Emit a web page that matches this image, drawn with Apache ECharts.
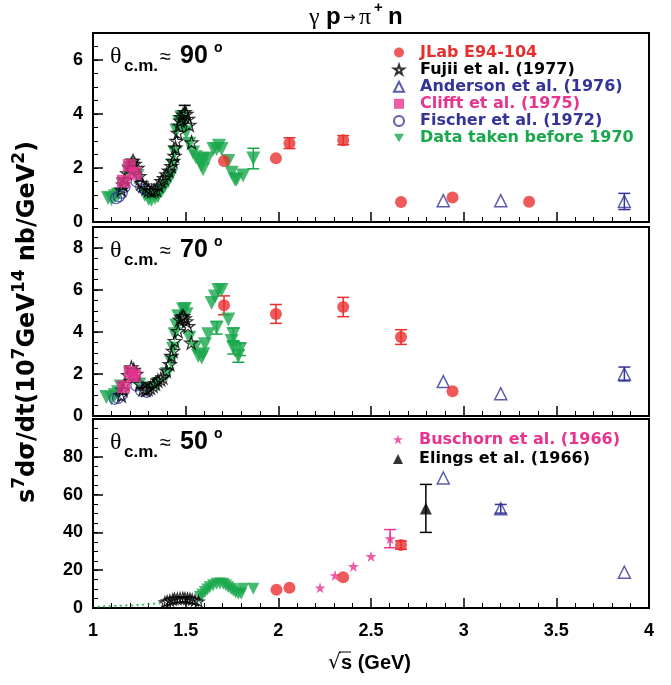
<!DOCTYPE html>
<html><head><meta charset="utf-8">
<script src="https://cdn.jsdelivr.net/npm/echarts@6/dist/echarts.min.js"></script>
<style>html,body{margin:0;padding:0;background:#fff}#c{width:671px;height:685px}</style>
</head><body><div id="c"></div>
<script>
// ---------------- DATA ----------------
const xTickRange = [1, 4];
const panelAngles = ['90', '70', '50'];
const panelYMax = [7, 9, 100];
const panelYInterval = [2, 2, 20];
const panelYMinor = [0.5, 0.5, 5];

// theta ~ 90 deg
const jlab90 = [[1.707,2.26],[1.987,2.36],[2.06,2.92],[2.35,3.03],[2.662,0.74],[2.94,0.91],[3.353,0.75]];
const jlab90Err = [[2.06,2.92,0.2],[2.35,3.03,0.17]];
const fujii90 = [[1.153,1.20],[1.162,1.38],[1.171,1.57],[1.185,1.80],[1.198,2.01],[1.207,2.15],[1.216,2.26],[1.225,2.15],[1.24,2.0],[1.25,1.7],[1.26,1.45],[1.27,1.35],[1.288,1.26],[1.30,1.18],[1.315,1.14],[1.33,1.16],[1.342,1.20],[1.355,1.35],[1.369,1.51],[1.383,1.62],[1.396,1.76],[1.41,1.90],[1.423,2.07],[1.432,2.25],[1.44,2.45],[1.445,2.75],[1.45,3.0],[1.458,3.3],[1.464,3.57],[1.47,3.75],[1.477,3.88],[1.486,3.98],[1.495,4.07],[1.504,4.0],[1.513,3.82],[1.52,3.6],[1.532,2.95]];
const fujii90Err = [[1.495,4.07,0.25]];
const anderson90 = [[2.89,0.79],[3.20,0.79],[3.867,0.76]];
const anderson90Err = [[3.867,0.76,0.3]];
const clifft90 = [[1.164,1.51],[1.196,2.10],[1.227,1.80]];
const fischer90 = [[1.125,0.88],[1.14,0.95],[1.155,1.08],[1.17,1.30],[1.235,1.50],[1.26,1.30],[1.28,1.20]];
const old90 = [[1.081,0.89],[1.10,0.85],[1.118,0.95],[1.135,1.01],[1.16,1.4],[1.19,1.9],[1.21,2.1],[1.24,1.7],[1.28,1.0],[1.30,0.85],[1.315,0.82],[1.335,0.9],[1.35,0.95],[1.37,1.15],[1.387,1.32],[1.405,1.5],[1.42,1.7],[1.43,2.1],[1.44,2.57],[1.45,3.38],[1.465,3.7],[1.477,3.88],[1.49,3.6],[1.503,3.32],[1.52,2.9],[1.54,2.57],[1.555,2.4],[1.576,2.26],[1.585,2.1],[1.594,1.95],[1.595,2.32],[1.62,2.35],[1.65,2.70],[1.667,2.70],[1.68,2.82],[1.694,2.70],[1.73,2.26],[1.748,1.82],[1.766,1.57],[1.775,1.57],[1.81,1.72],[1.865,2.35]];
const old90Err = [[1.865,2.35,0.38]];

// theta ~ 70 deg
const jlab70 = [[1.707,5.27],[1.987,4.86],[2.35,5.19],[2.662,3.76],[2.94,1.18]];
const jlab70Err = [[1.707,5.27,0.45],[1.987,4.86,0.45],[2.35,5.19,0.46],[2.662,3.76,0.35]];
const anderson70 = [[2.89,1.64],[3.20,1.06],[3.867,2.0]];
const anderson70Err = [[3.867,2.0,0.33]];
const fujii70 = [[1.153,0.98],[1.162,1.25],[1.171,1.53],[1.19,1.95],[1.207,2.31],[1.22,2.2],[1.234,2.0],[1.252,1.53],[1.27,1.29],[1.285,1.25],[1.297,1.29],[1.31,1.35],[1.324,1.45],[1.337,1.55],[1.35,1.68],[1.365,1.75],[1.377,1.84],[1.396,2.16],[1.414,2.47],[1.423,2.86],[1.432,3.1],[1.441,3.57],[1.459,4.04],[1.468,4.59],[1.477,4.7],[1.486,4.75],[1.495,4.65],[1.503,4.51],[1.513,4.28],[1.53,3.49]];
const clifft70 = [[1.165,1.40],[1.201,2.08],[1.225,1.92]];
const fischer70 = [[1.117,0.82],[1.135,0.86],[1.153,1.0],[1.234,1.45],[1.26,1.2],[1.29,1.15]];
const old70 = [[1.072,0.90],[1.1,0.85],[1.118,1.0],[1.135,1.13],[1.15,1.4],[1.2,2.0],[1.25,1.5],[1.3,1.3],[1.35,1.5],[1.4,2.0],[1.42,2.6],[1.432,3.2],[1.44,3.89],[1.45,4.3],[1.46,4.75],[1.486,5.07],[1.496,5.1],[1.505,4.85],[1.52,3.73],[1.55,3.25],[1.568,2.86],[1.586,2.78],[1.595,2.94],[1.604,3.42],[1.622,3.89],[1.64,5.38],[1.658,5.69],[1.667,4.2],[1.676,6.0],[1.694,6.0],[1.73,4.59],[1.748,3.57],[1.757,3.89],[1.757,3.25],[1.784,2.86],[1.793,3.18]];
const old70Err = [[1.667,4.2,0.3],[1.757,3.89,0.3],[1.757,3.25,0.3],[1.784,2.86,0.3],[1.793,3.18,0.3]];

// theta ~ 50 deg
const jlab50 = [[1.99,9.6],[2.06,10.7],[2.35,16.3],[2.662,33.3]];
const jlab50Err = [[2.662,33.3,2.2]];
const anderson50 = [[2.89,68.8],[3.20,52.5],[3.867,18.9]];
const anderson50Err = [[3.20,52.5,2.3]];
const elings50 = [[2.796,52.7]];
const elings50Err = [[2.796,52.7,12.7]];
const buschorn50 = [[2.225,10.7],[2.306,17.2],[2.405,22.0],[2.50,27.3],[2.603,36.7]];
const buschorn50Err = [[2.603,36.7,4.8]];
const fujii50 = [[1.388,3.1],[1.40,3.6],[1.415,4.0],[1.43,4.5],[1.44,4.9],[1.455,5.0],[1.47,5.2],[1.485,5.3],[1.496,5.2],[1.51,5.0],[1.523,4.9],[1.535,4.5],[1.55,4.0],[1.57,3.5]];
const old50 = [[1.577,5.8],[1.59,7.0],[1.604,8.4],[1.617,9.8],[1.63,11.0],[1.648,12.0],[1.667,12.8],[1.685,13.0],[1.703,12.8],[1.717,12.0],[1.73,11.0],[1.745,10.0],[1.757,9.3],[1.77,8.2],[1.784,7.6],[1.80,7.5],[1.81,10.2],[1.865,10.2]];
const old50Low = [[1.03,0.4],[1.06,0.6],[1.09,0.7],[1.12,0.8],[1.15,0.9],[1.18,1.0],[1.21,1.1],[1.24,1.3],[1.27,1.5],[1.30,1.7],[1.33,2.0],[1.36,2.4]];

// ---------------- STYLE ----------------
const RED='#e8312f', BLUE='#333399', PINK='#e8338f', GREEN='#19a84c', BLACK='#000000';
const STAR='path://M50,0L61.2,34.5L97.6,34.5L68.2,55.9L79.4,90.5L50,69.1L20.6,90.5L31.8,55.9L2.4,34.5L38.8,34.5Z';
const N = {jlab:'JLab E94-104', fujii:'Fujii et al. (1977)', and:'Anderson et al. (1976)', cli:'Clifft et al. (1975)', fis:'Fischer et al. (1972)', old:'Data taken before 1970', bus:'Buschorn et al. (1966)', eli:'Elings et al. (1966)'};
const styles = {};
styles[N.jlab] = {symbol:'circle', symbolSize:12, itemStyle:{color:RED}};
styles[N.fujii] = {symbol:STAR, symbolSize:13, itemStyle:{color:'rgba(255,255,255,0)', borderColor:BLACK, borderWidth:1.2}};
styles[N.and] = {symbol:'triangle', symbolSize:12, itemStyle:{color:'rgba(255,255,255,0)', borderColor:BLUE, borderWidth:1.5}};
styles[N.cli] = {symbol:'rect', symbolSize:13, itemStyle:{color:PINK}};
styles[N.fis] = {symbol:'circle', symbolSize:11, itemStyle:{color:'rgba(255,255,255,0)', borderColor:BLUE, borderWidth:1.2}};
styles[N.old] = {symbol:'triangle', symbolRotate:180, symbolSize:14, itemStyle:{color:GREEN}};
styles[N.bus] = {symbol:STAR, symbolSize:11, itemStyle:{color:PINK}};
styles[N.eli] = {symbol:'triangle', symbolSize:12, itemStyle:{color:BLACK}};

function sc(name, data, gi, extra){
  return Object.assign({type:'scatter', name, data, xAxisIndex:gi, yAxisIndex:2*gi, animation:false, emphasis:{disabled:true}}, styles[name], extra||{});
}
function eb(data, gi, color, cap){
  return {type:'custom', data, xAxisIndex:gi, yAxisIndex:2*gi, silent:true, animation:false, encode:{x:0,y:1},
    renderItem:function(p, api){
      const x=api.value(0), y=api.value(1), e=api.value(2);
      const a=api.coord([x,y+e]), b=api.coord([x,y-e]);
      const s={stroke:color, lineWidth:1.5};
      return {type:'group', children:[
        {type:'line', shape:{x1:a[0],y1:a[1],x2:b[0],y2:b[1]}, style:s},
        {type:'line', shape:{x1:a[0]-cap,y1:a[1],x2:a[0]+cap,y2:a[1]}, style:s},
        {type:'line', shape:{x1:b[0]-cap,y1:b[1],x2:b[0]+cap,y2:b[1]}, style:s}
      ]};
    }};
}

const grids = [
  {left:93, top:33, width:556, height:189},
  {left:93, top:227, width:556, height:189},
  {left:93, top:419, width:556, height:189}
].map(g => Object.assign(g, {show:true, borderColor:'#000', borderWidth:2, backgroundColor:'rgba(0,0,0,0)'}));

const labelFont = {fontFamily:'Liberation Sans', fontWeight:'bold', fontSize:18, color:'#000'};
const xAxes = [0,1,2].map(gi => ({
  gridIndex:gi, type:'value', min:xTickRange[0], max:xTickRange[1], interval:0.5, position:'bottom',
  axisLine:{show:false}, splitLine:{show:false},
  axisTick:{inside:true, length:10, lineStyle:{color:'#000', width:1.5}},
  minorTick:{show:true, splitNumber:5, length:5, lineStyle:{color:'#000', width:1}},
  axisLabel:Object.assign({show:gi===2, margin:14}, labelFont)
}));
const yAxes = [];
[0,1,2].forEach(gi => {
  yAxes.push({gridIndex:gi, type:'value', position:'left', min:0, max:panelYMax[gi], interval:panelYInterval[gi],
    axisLine:{show:false}, splitLine:{show:false},
    axisTick:{inside:true, length:10, lineStyle:{color:'#000', width:1.5}},
    axisLabel:Object.assign({showMaxLabel:false, margin:10}, labelFont)});
  yAxes.push({gridIndex:gi, type:'value', position:'left', min:0, max:panelYMax[gi], interval:panelYMinor[gi],
    axisLine:{show:false}, splitLine:{show:false},
    axisTick:{inside:true, length:5, lineStyle:{color:'#000', width:1}},
    axisLabel:{show:false}});
});

const series = [
  eb(old90Err,0,GREEN,6), sc(N.old, old90, 0), sc(N.fis, fischer90, 0), eb(fujii90Err,0,BLACK,6), sc(N.fujii, fujii90, 0),
  sc(N.cli, clifft90, 0), eb(anderson90Err,0,BLUE,6), sc(N.and, anderson90, 0), eb(jlab90Err,0,RED,6), sc(N.jlab, jlab90, 0),
  eb(old70Err,1,GREEN,6), sc(N.old, old70, 1), sc(N.fis, fischer70, 1), sc(N.fujii, fujii70, 1),
  sc(N.cli, clifft70, 1), eb(anderson70Err,1,BLUE,6), sc(N.and, anderson70, 1), eb(jlab70Err,1,RED,6), sc(N.jlab, jlab70, 1),
  sc(N.old, old50Low, 2, {symbolSize:3}), sc(N.old, old50, 2, {symbolSize:12}), sc(N.fujii, fujii50, 2, {symbolSize:11}),
  eb(buschorn50Err,2,PINK,6), sc(N.bus, buschorn50, 2), eb(jlab50Err,2,RED,6), sc(N.jlab, jlab50, 2),
  eb(elings50Err,2,BLACK,6), sc(N.eli, elings50, 2), eb(anderson50Err,2,BLUE,6), sc(N.and, anderson50, 2)
];

const legendText = {fontFamily:'DejaVu Sans', fontWeight:'bold', fontSize:16, padding:[0,0,0,11]};
const INV_TRI = 'path://M0,0L100,0L50,87Z';
const legends = [
  {left:393, top:44.5, padding:0, orient:'vertical', itemWidth:10, itemHeight:10, itemGap:1.1, selectedMode:false, textStyle:legendText,
   data:[{name:N.jlab, textStyle:{color:RED}}, {name:N.fujii, textStyle:{color:BLACK}}, {name:N.and, textStyle:{color:BLUE}},
         {name:N.cli, textStyle:{color:PINK}}, {name:N.fis, textStyle:{color:BLUE}}, {name:N.old, icon:INV_TRI, textStyle:{color:GREEN}}]},
  {left:393, top:431.5, padding:0, orient:'vertical', itemWidth:10, itemHeight:10, itemGap:3.6, selectedMode:false, textStyle:legendText,
   data:[{name:N.bus, textStyle:{color:PINK}}, {name:N.eli, textStyle:{color:BLACK}}]}
];

function txt(text, x, y, font, extra){
  return Object.assign({type:'text', x, y, silent:true,
    style:{text, font, fill:'#000', textAlign:'left', textVerticalAlign:'middle', verticalAlign:'middle'}}, extra||{});
}
const graphics = [];
grids.forEach((g, i) => {
  const T = g.top;
  graphics.push(txt('θ', 110, T+24, '24px "Liberation Serif"'));
  graphics.push(txt('c.m.', 124, T+33, 'bold 17px "Liberation Sans"'));
  graphics.push(txt('≈', 160, T+24, '20px "Liberation Sans"'));
  graphics.push(txt(panelAngles[i], 180, T+23, 'bold 25px "Liberation Sans"'));
  graphics.push(txt('o', 214, T+15, 'bold 14px "Liberation Sans"'));
});
// title
graphics.push(txt('γ', 309, 18, '24px "Liberation Serif"'));
graphics.push(txt('p', 326, 17, 'bold 24px "Liberation Sans"'));
graphics.push(txt('→', 343, 18, '15px "DejaVu Sans"'));
graphics.push(txt('π', 359, 18, '24px "Liberation Serif"'));
graphics.push(txt('+', 374, 8, 'bold 15px "Liberation Sans"'));
graphics.push(txt('n', 388, 17, 'bold 24px "Liberation Sans"'));
// x axis title
graphics.push(txt('√', 328, 663, '20px "DejaVu Sans"'));
graphics.push(txt('s (GeV)', 341, 663, 'bold 20px "Liberation Sans"'));
graphics.push({type:'line', silent:true, shape:{x1:339, y1:652, x2:351, y2:652}, style:{stroke:'#000', lineWidth:1}});

// y axis title, built from pieces (main text + superscripts), rotated to read bottom-to-top
(function(){
  const pieces = [['s',0],['7',1],['dσ/dt(10',0],['7',1],['GeV',0],['14',1],[' nb/GeV',0],['2',1],[')',0]];
  const sz = 24, cx = 28, cy = 322;
  const ctx = document.createElement('canvas').getContext('2d');
  function fontOf(sup){ return 'bold ' + (sup ? sz*0.7 : sz).toFixed(1) + 'px "DejaVu Sans"'; }
  let L = 0;
  pieces.forEach(p => { ctx.font = fontOf(p[1]); L += ctx.measureText(p[0]).width; });
  let y = cy + L/2;
  pieces.forEach(p => {
    const f = fontOf(p[1]);
    ctx.font = f;
    const w = ctx.measureText(p[0]).width;
    graphics.push({type:'text', x: cx - (p[1] ? sz*0.36 : 0), y: y, rotation: Math.PI/2, silent:true,
      style:{text:p[0], font:f, fill:'#000', textAlign:'left', textVerticalAlign:'middle', verticalAlign:'middle'}});
    y -= w;
  });
})();

const chart = echarts.init(document.getElementById('c'), null, {renderer:'canvas'});
chart.setOption({animation:false, backgroundColor:'#fff', grid:grids, xAxis:xAxes, yAxis:yAxes, legend:legends, series, graphic:graphics});
</script></body></html>
